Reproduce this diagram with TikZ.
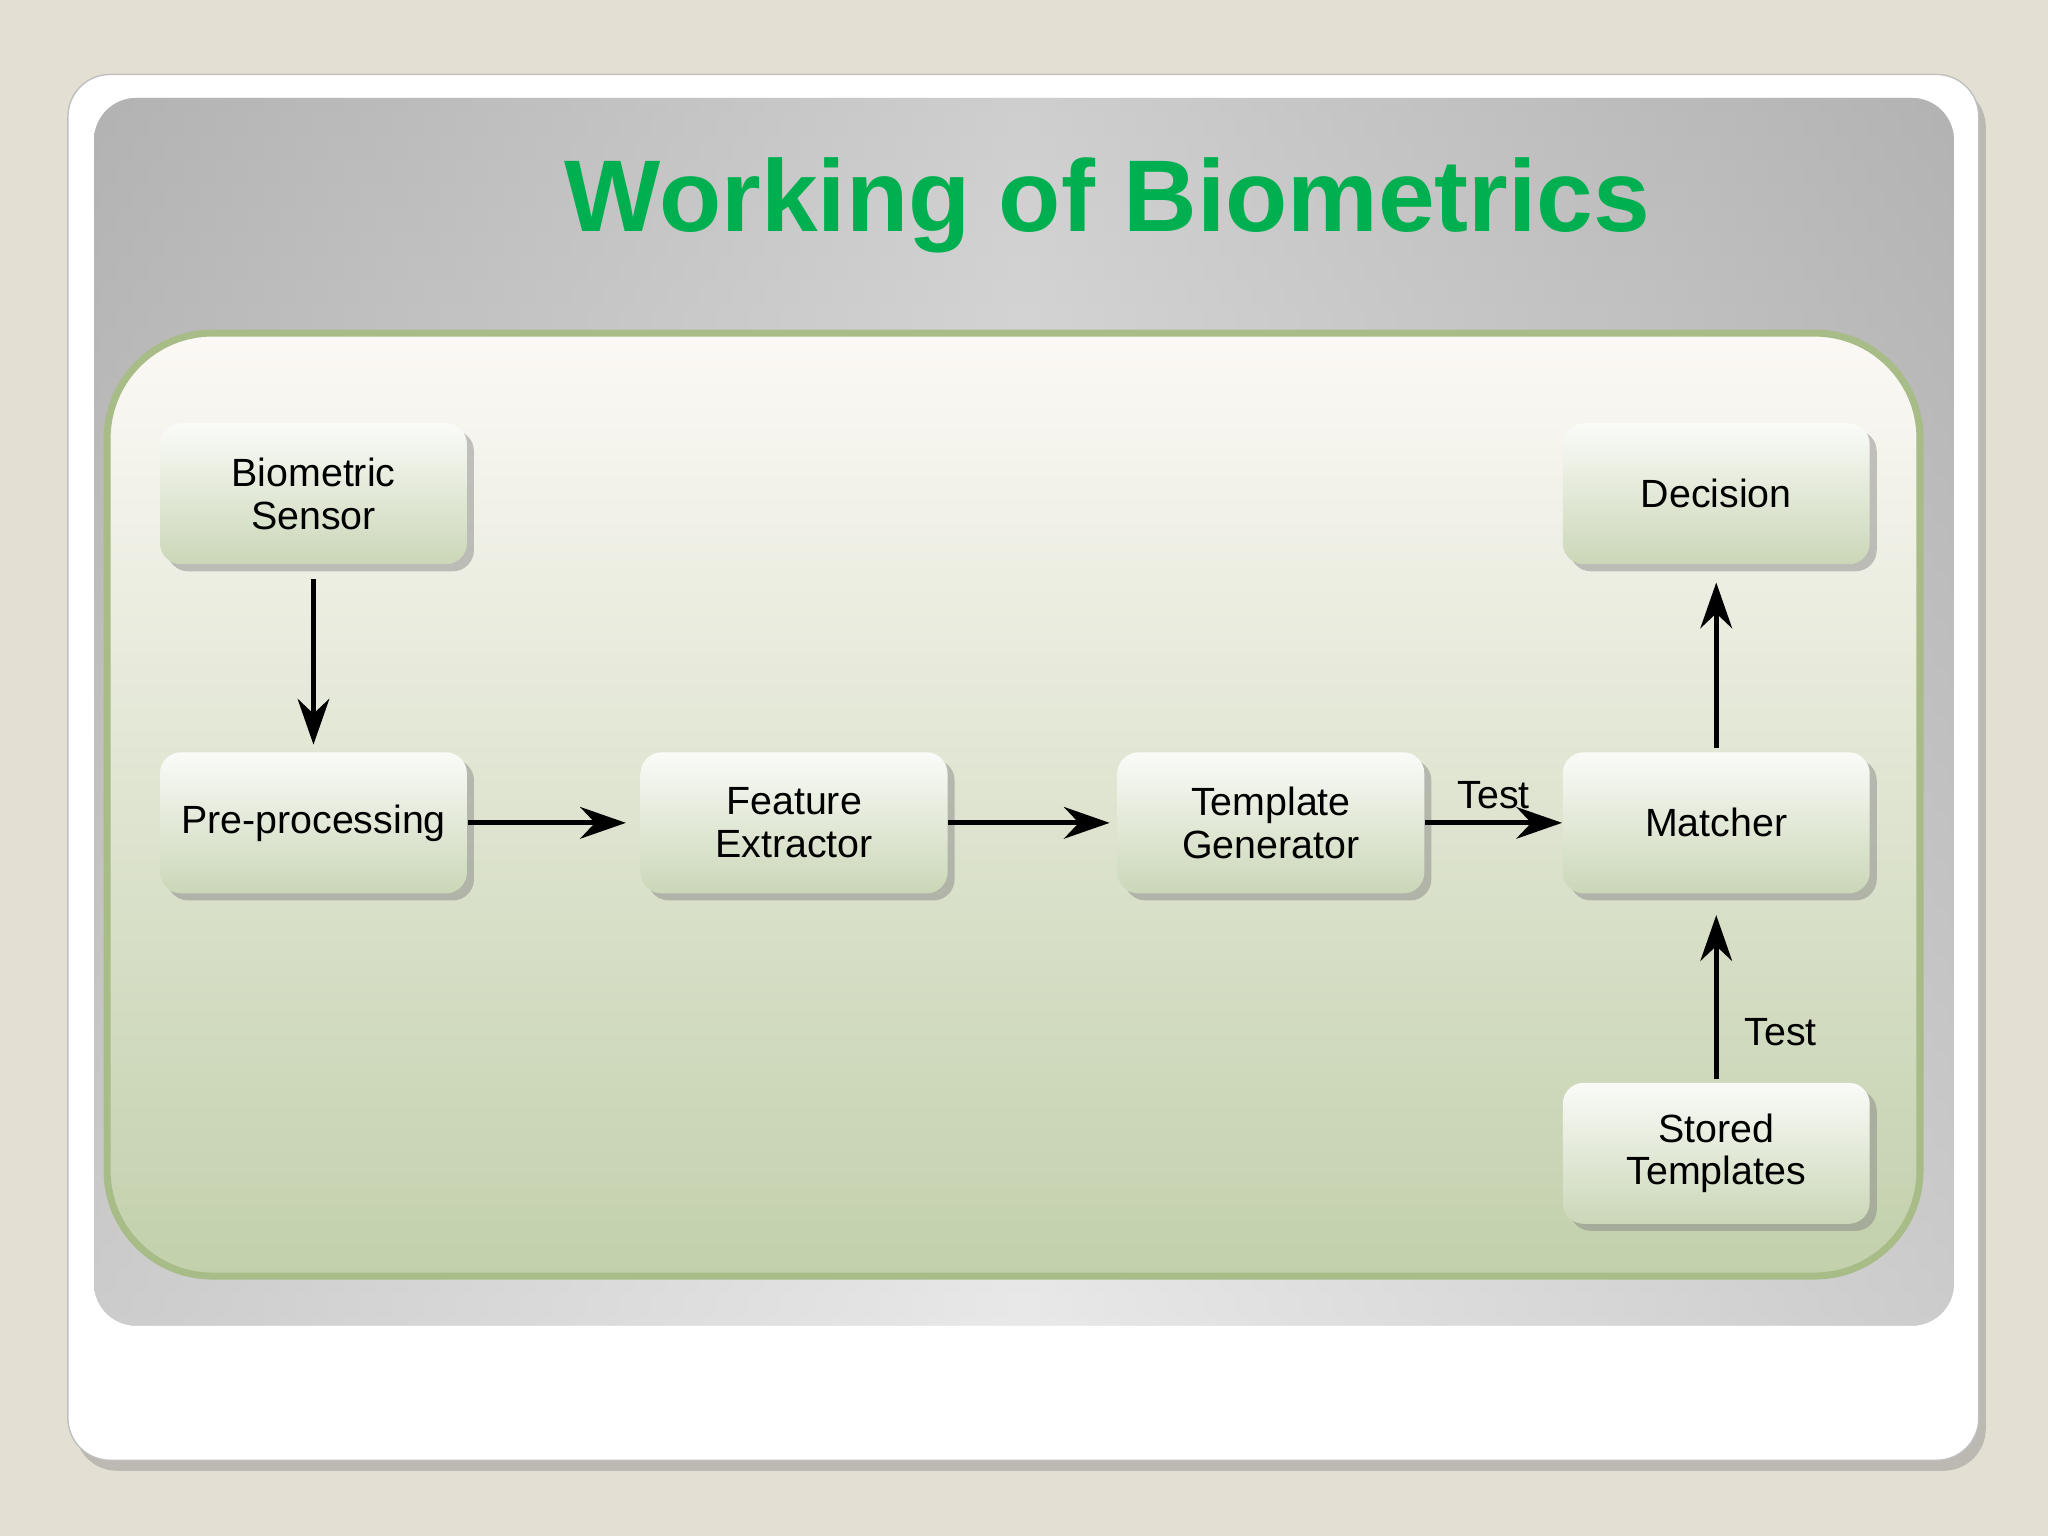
\documentclass[tikz,border=0pt]{standalone}
\usepackage{fontspec}
\setmainfont{Liberation Sans}
\usetikzlibrary{arrows.meta,shadows}
\definecolor{bg}{HTML}{E3E0D3}
\definecolor{ttl}{HTML}{00B050}
\definecolor{pb}{HTML}{A8BC88}
\tikzset{
  box/.style={rounded corners=6pt, top color=white!85!pb!40, bottom color=pb!60, draw=none,
     drop shadow={shadow xshift=2pt,shadow yshift=-2pt,opacity=0.45},
     minimum width=235*0.01306cm, minimum height=108*0.01306cm, align=center,
     font=\fontsize{11.2}{12.2}\selectfont},
  arr/.style={-{Stealth[length=13pt,width=9pt]}, line width=1.4pt},
  lbl/.style={font=\fontsize{11.2}{13}\selectfont}
}
\begin{document}
\begin{tikzpicture}[x=0.01306cm,y=-0.01306cm]
\fill[bg] (0,0) rectangle (1568,1176);
\useasboundingbox (0,0) rectangle (1568,1176);
\fill[white, draw=gray!50, rounded corners=12pt, drop shadow={shadow xshift=2pt,shadow yshift=-3pt,opacity=0.4}] (52,57) rectangle (1515,1118);
\shade[rounded corners=12pt, left color=gray!65, right color=gray!65, middle color=gray!20] (72,75) rectangle (1496,1015);
\shade[rounded corners=12pt, top color=gray!55, bottom color=gray!15, opacity=0.5] (72,75) rectangle (1496,1015);
\node[font=\bfseries\fontsize{29}{34}\selectfont, text=ttl] (title) at (848,157) {Working of Biometrics};
\shade[rounded corners=30pt, top color=white!95!brown, bottom color=pb!70, draw=pb, line width=2pt] (82,255) rectangle (1470,977);
\node[box] (bs) at (240,378) {Biometric\\Sensor};
\node[box] (pp) at (240,630) {Pre-processing};
\node[box] (fe) at (608,630) {Feature\\Extractor};
\node[box] (tg) at (973,630) {Template\\Generator};
\node[box] (ma) at (1314,630) {Matcher};
\node[box] (de) at (1314,378) {Decision};
\node[box] (st) at (1314,883) {Stored\\Templates};
\draw[arr] ([yshift=-4]bs.south) -- ([yshift=2]pp.north);
\draw[arr] (pp.east) -- ([xshift=-4]fe.west);
\draw[arr] (fe.east) -- ([xshift=-2]tg.west);
\draw[arr] (tg.east) -- node[lbl, above]{Test} (ma.west);
\draw[arr] ([yshift=1]st.north) -- node[lbl, right, xshift=4pt, yshift=-10pt]{Test} ([yshift=-6]ma.south);
\draw[arr] ([yshift=1]ma.north) -- ([yshift=-5]de.south);
\end{tikzpicture}
\end{document}
